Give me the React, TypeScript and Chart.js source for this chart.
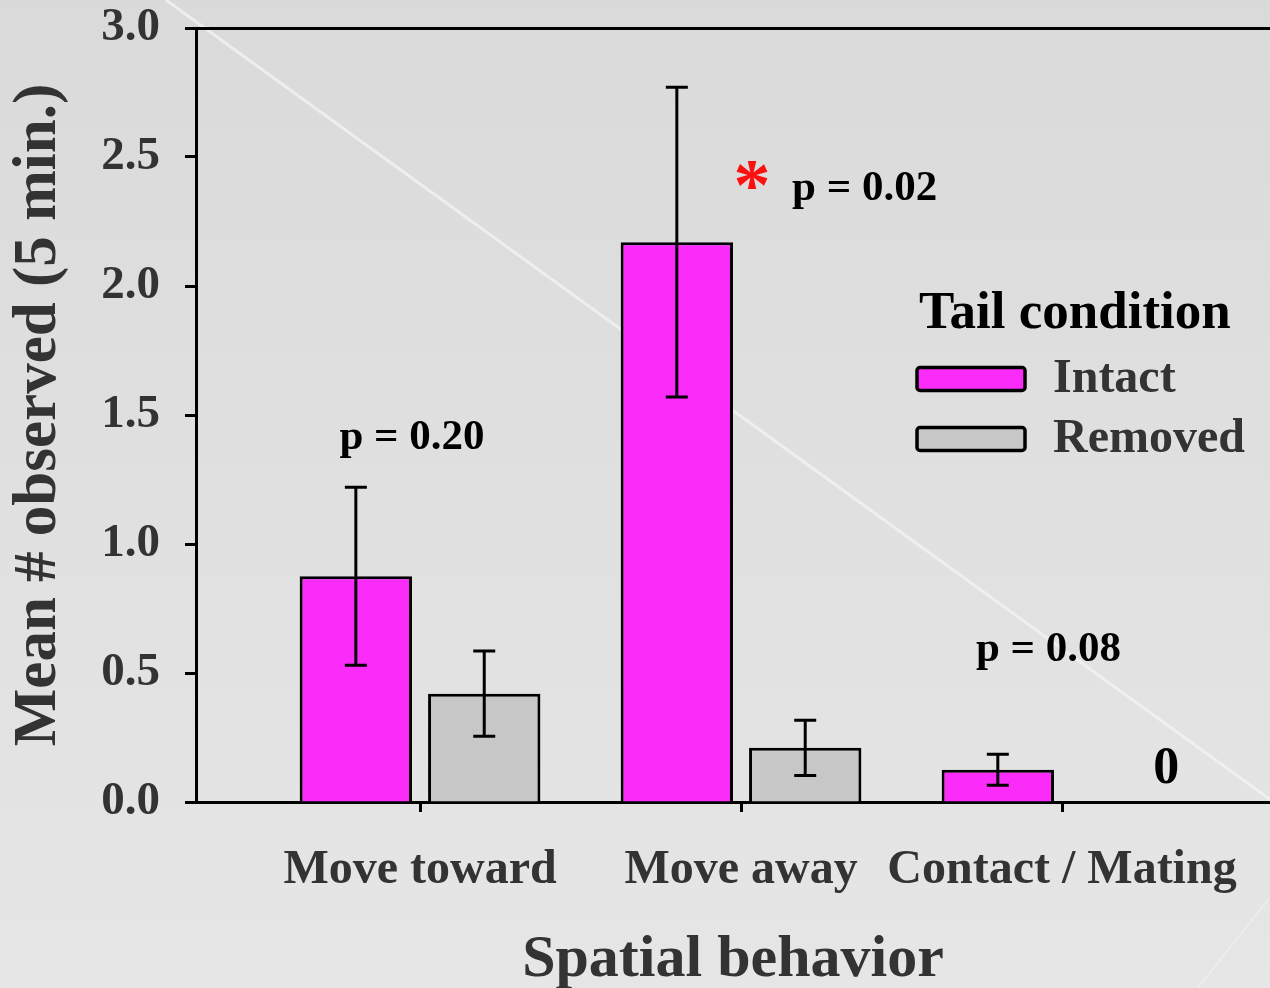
import { useEffect, useRef } from "react";
import { Chart, registerables } from "chart.js";

Chart.register(...registerables);

// Spatial behaviour categories and the two tail-condition groups
const CATEGORIES = ["Move toward", "Move away", "Contact / Mating"];
const SERIES_NAMES = ["Intact", "Removed"];
const INTACT_MEANS = [0.875, 2.17, 0.125];
const INTACT_ERRORS = [0.345, 0.6, 0.06];
const REMOVED_MEANS = [0.42, 0.21, 0];
const REMOVED_ERRORS = [0.165, 0.107, 0];
const Y_MIN = 0;
const Y_MAX = 3;
const Y_STEP = 0.5;
const P_LABELS = ["p = 0.20", "p = 0.02", "p = 0.08"];

const SERIF = '"Liberation Serif", "Times New Roman", serif';
const INTACT_COLOR = "#fb2bfa";
const REMOVED_COLOR = "#c7c7c7";
const TEXT_GRAY = "#333333";

// Text notes placed in data coordinates (x = category index, y = value)
const NOTES = [
  { text: P_LABELS[0], x: -0.025, y: 1.41, size: 43, color: "#000" },
  { text: "*", x: 1.034, y: 2.37, size: 74, color: "#ff1010" },
  { text: P_LABELS[1], x: 1.385, y: 2.375, size: 43, color: "#000" },
  { text: P_LABELS[2], x: 1.958, y: 0.59, size: 43, color: "#000" },
];

const backgroundPlugin = {
  id: "slideBackground",
  beforeDraw(chart: any) {
    const { ctx, width, height } = chart;
    ctx.save();
    const g = ctx.createLinearGradient(0, 0, 0, height);
    g.addColorStop(0, "#dadada");
    g.addColorStop(1, "#e6e6e6");
    ctx.fillStyle = g;
    ctx.fillRect(0, 0, width, height);
    ctx.strokeStyle = "rgba(242,242,242,0.8)";
    ctx.lineWidth = 3;
    ctx.beginPath();
    ctx.moveTo(166, 0);
    ctx.lineTo(166 + 1300, 1300 * 0.724);
    ctx.stroke();
    ctx.strokeStyle = "rgba(240,240,240,0.7)";
    ctx.lineWidth = 2;
    ctx.beginPath();
    ctx.moveTo(1300, 860);
    ctx.lineTo(1180, 1010);
    ctx.stroke();
    ctx.restore();
  },
};

const errorBarPlugin = {
  id: "errorBars",
  afterDatasetsDraw(chart: any) {
    const { ctx } = chart;
    const yScale = chart.scales.y;
    ctx.save();
    ctx.strokeStyle = "#000";
    ctx.lineWidth = 3;
    chart.data.datasets.forEach((ds: any, di: number) => {
      const meta = chart.getDatasetMeta(di);
      meta.data.forEach((bar: any, i: number) => {
        const err = ds.errors[i];
        if (!err) return;
        const v = ds.data[i].y;
        const top = yScale.getPixelForValue(v + err);
        const bottom = yScale.getPixelForValue(v - err);
        const x = bar.x;
        const half = 11;
        ctx.beginPath();
        ctx.moveTo(x, top);
        ctx.lineTo(x, bottom);
        ctx.moveTo(x - half, top);
        ctx.lineTo(x + half, top);
        ctx.moveTo(x - half, bottom);
        ctx.lineTo(x + half, bottom);
        ctx.stroke();
      });
    });
    ctx.restore();
  },
};

const notesPlugin = {
  id: "notes",
  afterDraw(chart: any) {
    const { ctx } = chart;
    const xs = chart.scales.x;
    const ys = chart.scales.y;
    ctx.save();
    ctx.textAlign = "center";
    ctx.textBaseline = "middle";
    NOTES.forEach((n) => {
      ctx.font = `bold ${n.size}px ${SERIF}`;
      ctx.fillStyle = n.color;
      ctx.fillText(n.text, xs.getPixelForValue(n.x), ys.getPixelForValue(n.y));
    });
    // zero-valued bars get their value written beside them
    chart.data.datasets.forEach((ds: any, di: number) => {
      const meta = chart.getDatasetMeta(di);
      meta.data.forEach((bar: any, i: number) => {
        if (ds.data[i].y !== 0) return;
        ctx.font = `bold 52px ${SERIF}`;
        ctx.fillStyle = "#000";
        ctx.fillText(String(ds.data[i].y), bar.x + 40, ys.getPixelForValue(0) - 32);
      });
    });
    ctx.restore();
  },
};

const legendPlugin = {
  id: "tailLegend",
  afterDraw(chart: any) {
    const { ctx } = chart;
    ctx.save();
    ctx.textAlign = "left";
    ctx.textBaseline = "middle";
    ctx.font = `bold 53px ${SERIF}`;
    ctx.fillStyle = "#000";
    ctx.fillText("Tail condition", 919, 314);
    chart.data.datasets.forEach((ds: any, i: number) => {
      const cy = 379 + i * 60;
      ctx.fillStyle = ds.backgroundColor;
      ctx.strokeStyle = "#000";
      ctx.lineWidth = 3.5;
      ctx.beginPath();
      ctx.roundRect(917, cy - 11.5, 108, 23, 3);
      ctx.fill();
      ctx.stroke();
      ctx.font = `bold 48px ${SERIF}`;
      ctx.fillStyle = TEXT_GRAY;
      ctx.fillText(ds.label, 1053, cy + 1);
    });
    ctx.restore();
  },
};

export default function App() {
  const canvasRef = useRef<HTMLCanvasElement | null>(null);

  useEffect(() => {
    const canvas = canvasRef.current;
    if (!canvas) return;
    const xMin = -0.698;
    const xMax = 2.648;
    const chart = new Chart(canvas, {
      type: "bar",
      data: {
        datasets: [
          {
            label: SERIES_NAMES[0],
            data: INTACT_MEANS.map((y, i) => ({ x: i, y })),
            errors: INTACT_ERRORS,
            backgroundColor: INTACT_COLOR,
            borderColor: "#000",
            borderWidth: 3,
          } as any,
          {
            label: SERIES_NAMES[1],
            data: REMOVED_MEANS.map((y, i) => ({ x: i, y })),
            errors: REMOVED_ERRORS,
            backgroundColor: REMOVED_COLOR,
            borderColor: "#000",
            borderWidth: 3,
          } as any,
        ],
      },
      options: {
        responsive: false,
        animation: false,
        events: [],
        layout: { padding: 0, autoPadding: false },
        datasets: { bar: { categoryPercentage: 0.8, barPercentage: 0.875 } },
        plugins: {
          legend: { display: false },
          tooltip: { enabled: false },
        },
        scales: {
          x: {
            type: "linear",
            position: "bottom",
            offset: false,
            min: xMin,
            max: xMax,
            afterFit: (s: any) => {
              s.height = 186;
              s.paddingLeft = 0;
              s.paddingRight = 0;
            },
            afterBuildTicks: (s: any) => {
              s.ticks = CATEGORIES.map((_, i) => ({ value: i }));
            },
            ticks: {
              autoSkip: false,
              maxRotation: 0,
              padding: 30,
              color: TEXT_GRAY,
              font: { family: SERIF, size: 48, weight: "bold" },
              callback: (v: any) => CATEGORIES[v] ?? "",
            },
            grid: {
              offset: false,
              drawOnChartArea: false,
              drawTicks: true,
              tickLength: 10,
              tickWidth: 3,
              tickColor: "#000",
            },
            border: { display: true, color: "#000", width: 3 },
            title: {
              display: true,
              text: "Spatial behavior",
              color: TEXT_GRAY,
              font: { family: SERIF, size: 60, weight: "bold", lineHeight: 0.9 },
              padding: { top: 0, bottom: 1 },
            },
          },
          xTop: {
            type: "linear",
            position: "top",
            offset: false,
            min: xMin,
            max: xMax,
            afterFit: (s: any) => {
              s.height = 28;
              s.paddingLeft = 0;
              s.paddingRight = 0;
            },
            ticks: { display: false },
            grid: { offset: false, drawOnChartArea: false, drawTicks: false },
            border: { display: true, color: "#000", width: 3 },
          },
          y: {
            type: "linear",
            min: Y_MIN,
            max: Y_MAX,
            afterFit: (s: any) => {
              s.width = 196;
              s.paddingTop = 0;
              s.paddingBottom = 0;
            },
            ticks: {
              stepSize: Y_STEP,
              padding: 25,
              color: TEXT_GRAY,
              font: { family: SERIF, size: 47, weight: "bold" },
              callback: (v: any) => Number(v).toFixed(1),
            },
            grid: {
              drawOnChartArea: false,
              drawTicks: true,
              tickLength: 11,
              tickWidth: 3,
              tickColor: "#000",
            },
            border: { display: true, color: "#000", width: 3 },
            title: {
              display: true,
              text: "Mean # observed (5 min.)",
              color: TEXT_GRAY,
              font: { family: SERIF, size: 61, weight: "bold", lineHeight: 1 },
              padding: { top: 9, bottom: 0 },
            },
          },
        },
      } as any,
      plugins: [backgroundPlugin, errorBarPlugin, notesPlugin, legendPlugin],
    });
    return () => chart.destroy();
  }, []);

  return (
    <div style={{ position: "fixed", left: 0, top: 0, width: 1270, height: 988 }}>
      <canvas ref={canvasRef} width={1270} height={988} style={{ display: "block" }} />
    </div>
  );
}
